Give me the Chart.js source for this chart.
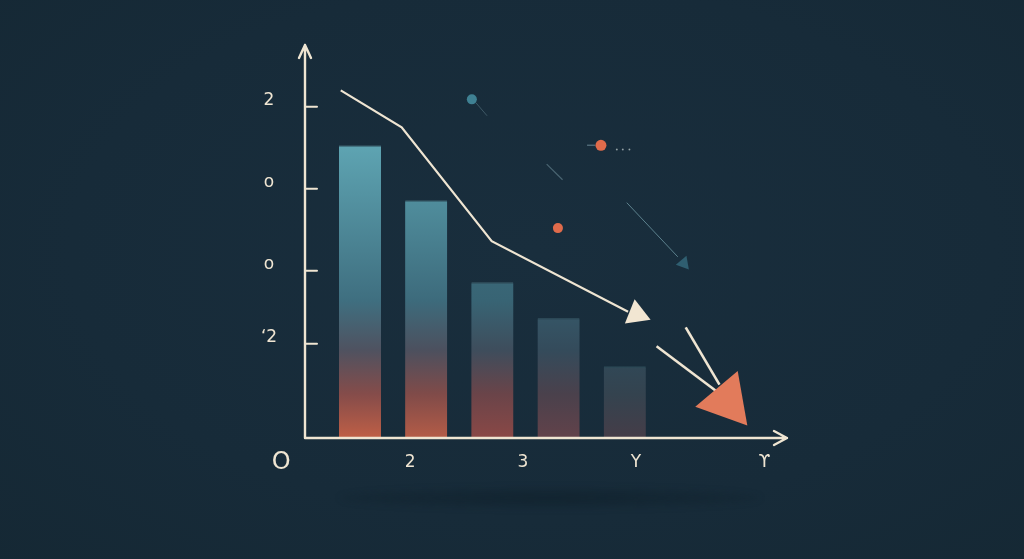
<!DOCTYPE html>
<html>
<head>
<meta charset="utf-8">
<script src="https://cdn.jsdelivr.net/npm/chart.js@4/dist/chart.umd.min.js"></script>
<style>
  html, body { margin: 0; padding: 0; }
  body {
    width: 1024px; height: 559px; overflow: hidden; position: relative;
    background: radial-gradient(ellipse 75% 80% at 52% 45%, #192e3d 0%, #172b39 60%, #152834 100%);
  }
  #shadow {
    position: absolute; left: 340px; top: 488px; width: 420px; height: 20px;
    border-radius: 50%;
    background: radial-gradient(ellipse at center, rgba(14,30,40,0.55) 0%, rgba(14,30,40,0.25) 55%, rgba(14,30,40,0) 100%);
    filter: blur(3px);
  }
  canvas { position: absolute; left: 0; top: 0; }
</style>
</head>
<body>
<div id="shadow"></div>
<canvas id="grafico" width="1024" height="559"></canvas>
<script>
// datos
var barX = [1, 2, 3, 4, 5];
var barValues = [3.57, 2.90, 1.90, 1.46, 0.87];

var trendX = [0.71, 1.63, 2.99, 5.05];
var trendY = [4.24, 3.79, 2.40, 1.54];

var yTickValues = [1.15, 2.04, 3.04, 4.04];
var yTickLabels = ['\u20182', 'o', 'o', '2'];

var xLabelValues = [-0.19, 1.76, 3.46, 5.17, 7.11];
var xTickLabels = ['O', '2', '3', 'Y', '\u03D2'];

// flechas y puntos sueltos
var arrowAX = [5.48, 6.40];
var arrowAY = [1.12, 0.56];
var arrowBX = [5.92, 6.43];
var arrowBY = [1.35, 0.65];
var thinAX = [5.03, 5.80];
var thinAY = [2.87, 2.21];
var thinBX = [2.75, 2.92];
var thinBY = [4.09, 3.93];
var thinCX = [3.82, 4.06];
var thinCY = [3.34, 3.15];
var dashX = [4.43, 4.55];
var dashY = [3.57, 3.57];
var dotsX = [4.88, 4.97, 5.07];
var dotsY = [3.52, 3.52, 3.52];

var headX = [5.18, 6.54, 5.89];
var headY = [1.51, 0.45, 2.13];

var markX = [2.69, 4.64, 3.99];
var markY = [4.13, 3.57, 2.56];

// colores (paradas absolutas, desde la barra mas alta hasta la base)
var gradStops = [0, 0.53, 0.7, 0.85, 1];
var barColors = [
    ['#5ea4b2', '#3f6f80', '#4f5260', '#854c4a', '#bf5f46'],
    ['#5aa0ae', '#3d6b7c', '#4c505e', '#804b49', '#b45c47'],
    ['#44788a', '#386474', '#3e4d5c', '#6a4449', '#8a4846'],
    ['#3a6374', '#365a6b', '#344b5b', '#4a414c', '#62424a'],
    ['#2f4b5b', '#2f4b5b', '#2f4a5a', '#34434f', '#453d48']
];

function pts(xs, ys) {
    return xs.map(function(x, i){ return {x: x, y: ys[i]}; });
}

function barFill(c) {
    var chart = c.chart;
    if (!chart.chartArea || c.dataIndex === undefined) return barColors[0][0];
    var i = c.dataIndex;
    var y = chart.scales.y;
    var top = y.getPixelForValue(Math.max.apply(null, barValues));
    var bottom = y.getPixelForValue(0);
    var g = chart.ctx.createLinearGradient(0, top, 0, bottom);
    gradStops.forEach(function(s, k){ g.addColorStop(s, barColors[i][k]); });
    return g;
}

var cream = '#efe5d2';

var axesPlugin = {
    id: 'ejes',
    afterDatasetsDraw: function(chart) {
        var ctx = chart.ctx;
        var a = chart.chartArea;
        var xs = chart.scales.x, ys = chart.scales.y;
        ctx.save();
        ctx.strokeStyle = cream;
        ctx.lineWidth = 2.4;
        ctx.lineCap = 'round';
        ctx.lineJoin = 'round';
        // eje y
        ctx.beginPath();
        ctx.moveTo(a.left, a.bottom);
        ctx.lineTo(a.left, a.top);
        ctx.moveTo(a.left - 6, a.top + 13);
        ctx.lineTo(a.left, a.top);
        ctx.lineTo(a.left + 6, a.top + 13);
        // eje x
        ctx.moveTo(a.left, a.bottom);
        ctx.lineTo(a.right, a.bottom);
        ctx.moveTo(a.right - 13, a.bottom - 7);
        ctx.lineTo(a.right, a.bottom);
        ctx.lineTo(a.right - 13, a.bottom + 7);
        ctx.stroke();
        // marcas
        ctx.lineWidth = 2;
        ctx.beginPath();
        yTickValues.forEach(function(v){
            var py = ys.getPixelForValue(v);
            ctx.moveTo(a.left, py);
            ctx.lineTo(a.left + 12, py);
        });
        ctx.stroke();
        // etiquetas
        ctx.fillStyle = cream;
        ctx.textAlign = 'center';
        ctx.textBaseline = 'middle';
        ctx.font = '17px "DejaVu Sans", sans-serif';
        yTickValues.forEach(function(v, i){
            ctx.fillText(yTickLabels[i], a.left - 36, ys.getPixelForValue(v) - 6);
        });
        xLabelValues.forEach(function(v, i){
            ctx.font = i === 0 ? '24px "DejaVu Sans", sans-serif' : '17px "DejaVu Sans", sans-serif';
            ctx.fillText(xTickLabels[i], xs.getPixelForValue(v), a.bottom + 25);
        });
        ctx.restore();
    }
};

function thinLine(xs, ys, color, width) {
    return {
        type: 'line', data: pts(xs, ys), borderColor: color, borderWidth: width,
        pointRadius: 0, fill: false, order: 6
    };
}

var ctxgrafico = document.getElementById('grafico');
var grafico = new Chart(ctxgrafico, {
    type: 'bar',
    data: {
        datasets: [
            {
                type: 'bar',
                data: pts(barX, barValues),
                backgroundColor: barFill,
                borderColor: 'rgba(120,180,190,0.2)',
                borderWidth: {top: 1.5, left: 0, right: 0, bottom: 0},
                borderSkipped: false,
                barThickness: 42,
                order: 10
            },
            {
                type: 'line',
                data: pts(trendX, trendY),
                borderColor: cream,
                borderWidth: 2.2,
                pointRadius: 0,
                tension: 0,
                fill: false,
                order: 5
            },
            thinLine(arrowAX, arrowAY, cream, 2.6),
            thinLine(arrowBX, arrowBY, cream, 2.6),
            thinLine(thinAX, thinAY, '#5d828e', 1),
            thinLine(thinBX, thinBY, '#3f5966', 1),
            thinLine(thinCX, thinCY, '#4a6572', 1.2),
            thinLine(dashX, dashY, '#4f6976', 1.5),
            {
                type: 'scatter',
                data: pts(dotsX, dotsY),
                backgroundColor: '#9aaab0',
                pointRadius: 1,
                order: 3
            },
            {
                type: 'scatter',
                data: pts(headX, headY),
                pointStyle: 'triangle',
                backgroundColor: ['#f2e6d2', '#e27b5b', '#2f5e70'],
                borderWidth: 0,
                pointRadius: [15, 32, 8],
                rotation: [-8, 140, 140],
                order: 1
            },
            {
                type: 'scatter',
                data: pts(markX, markY),
                backgroundColor: ['#3f8193', '#e06b4b', '#e06b4b'],
                borderWidth: 0,
                pointRadius: [5, 5.5, 5],
                order: 2
            }
        ]
    },
    options: {
        responsive: false,
        animation: false,
        layout: { padding: { left: 305, right: 237, top: 45, bottom: 121 } },
        plugins: { legend: { display: false }, tooltip: { enabled: false } },
        scales: {
            x: { type: 'linear', min: 0.17, max: 7.45, offset: false, display: false },
            y: { type: 'linear', min: 0, max: 4.793, display: false }
        }
    },
    plugins: [axesPlugin]
});
</script>
</body>
</html>
